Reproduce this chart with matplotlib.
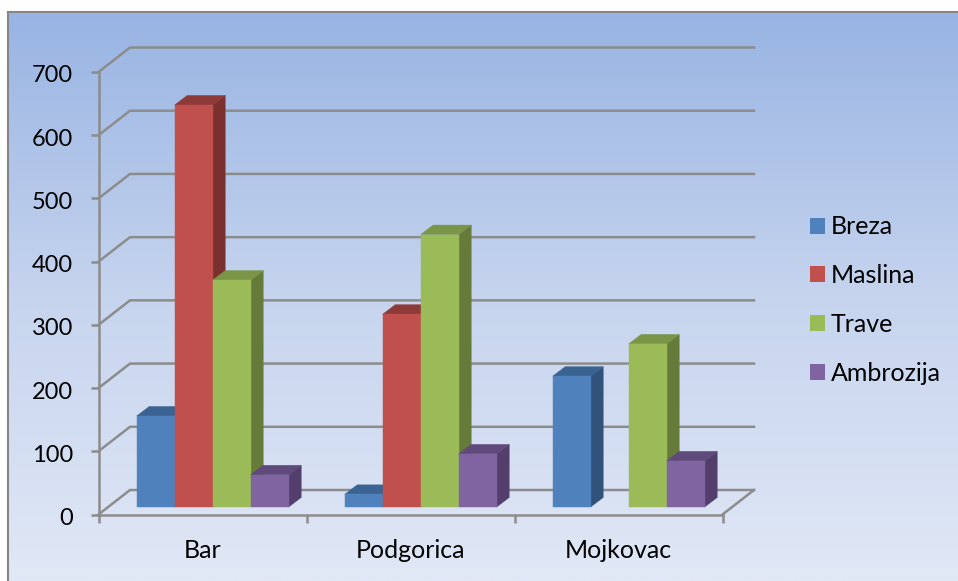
import numpy as np
import matplotlib
matplotlib.use("Agg")
import matplotlib.pyplot as plt
from matplotlib.patches import Polygon, Patch
from matplotlib.colors import LinearSegmentedColormap
from matplotlib.transforms import ScaledTranslation

plt.rcParams['font.family'] = ['Lato', 'DejaVu Sans']

categories = ["Bar", "Podgorica", "Mojkovac"]
series_names = ["Breza", "Maslina", "Trave", "Ambrozija"]
breza = [144, 20, 207]
maslina = [636, 305, np.nan]
trave = [359, 431, 258]
ambrozija = [51, 84, 73]
y_ticks = [0, 100, 200, 300, 400, 500, 600, 700]

series = [breza, maslina, trave, ambrozija]
front_colors = ["#4F81BD", "#C0504D", "#9BBB59", "#8064A2"]
top_colors = ["#3B6391", "#8E3A38", "#7A9546", "#604A7B"]
side_colors = ["#31527A", "#7A302E", "#667A3A", "#533F6C"]

W, H = 958, 581
fig = plt.figure(figsize=(W / 100, H / 100), dpi=100, facecolor="white")

AX_L, AX_R, AX_T, AX_B = 98.5, 722.5, 72.0, 514.5
FR_L, FR_T = 8.0, 12.0
bg = fig.add_axes([FR_L / W, 0, 1 - FR_L / W, 1 - FR_T / H])
cmap = LinearSegmentedColormap.from_list("bg", ["#98B4E3", "#C6D4EE", "#E1E8F6"])
bg.imshow(np.linspace(0, 1, 256)[:, None], aspect="auto", cmap=cmap, extent=(0, 1, 0, 1))
bg.set_xticks([]); bg.set_yticks([])
for name, sp in bg.spines.items():
    sp.set_color("#868686"); sp.set_linewidth(1.5)
    sp.set_visible(name in ("left", "top"))

ax = fig.add_axes([AX_L / W, 1 - AX_B / H, (AX_R - AX_L) / W, (AX_B - AX_T) / H])
ax.patch.set_alpha(0)
ax.set_xlim(0, 3)
ax.set_ylim(0, 700)
px_x = 3 / (AX_R - AX_L)
px_y = 700 / (AX_B - AX_T)

GRID = "#8C8C8C"
DX, DY = 31.5 * px_x, 24.5 * px_y
LW = 1.8
for v in y_ticks:
    ax.plot([0, DX, 3 + DX], [v, v + DY, v + DY], color=GRID, lw=LW, clip_on=False, zorder=1,
            solid_joinstyle="round")
ax.plot([3, 3 + DX], [0, DY], color=GRID, lw=LW, clip_on=False, zorder=1)

ax.spines["top"].set_visible(False)
ax.spines["right"].set_visible(False)
for s in ("left", "bottom"):
    ax.spines[s].set_color(GRID); ax.spines[s].set_linewidth(LW); ax.spines[s].set_zorder(1)
ax.set_yticks(y_ticks)
ax.set_xticks(range(4))
ax.set_xticklabels([])
ax.set_xticks([i + 0.5 for i in range(3)], categories, minor=True)
ax.tick_params(axis="y", which="major", length=5.5, width=LW, color=GRID, labelsize=17, pad=13)
ax.tick_params(axis="x", which="major", length=5.5, width=LW, color=GRID, labelsize=18)
ax.tick_params(axis="x", which="minor", length=0, labelsize=18, pad=18)
shift = ScaledTranslation(0, -2 / 100, fig.dpi_scale_trans)
for lbl in ax.get_yticklabels():
    lbl.set_transform(lbl.get_transform() + shift)

BAR_W = 38 * px_x
BAR_X0 = (136.7 - AX_L) * px_x
BASE = 7.5 * px_y
dbx, dby = 12.5 * px_x, 9.5 * px_y
for c in range(len(categories)):
    for s, vals in enumerate(series):
        v = vals[c]
        if np.isnan(v):
            continue
        x0 = c + BAR_X0 + s * BAR_W
        x1 = x0 + BAR_W
        y0, y1 = BASE, BASE + v
        kw = dict(closed=True, clip_on=False, zorder=3 + c * 10 + s, lw=0.3, joinstyle="round")
        ax.add_patch(Polygon([(x1, y0), (x1 + dbx, y0 + dby), (x1 + dbx, y1 + dby), (x1, y1)],
                             fc=side_colors[s], ec=side_colors[s], **kw))
        ax.add_patch(Polygon([(x0, y1), (x0 + dbx, y1 + dby), (x1 + dbx, y1 + dby), (x1, y1)],
                             fc=top_colors[s], ec=top_colors[s], **kw))
        ax.add_patch(Polygon([(x0, y0), (x1, y0), (x1, y1), (x0, y1)],
                             fc=front_colors[s], ec=front_colors[s], **kw))

handles = [Patch(fc=c, ec="none", label=n) for c, n in zip(front_colors, series_names)]
fs_px = 18 * 100 / 72
leg = fig.legend(handles=handles, loc="center left", frameon=False, fontsize=18,
                 bbox_to_anchor=(809.5 / W, 1 - 300 / H), borderaxespad=0, borderpad=0,
                 handlelength=15 / fs_px, handleheight=15 / fs_px,
                 handletextpad=6 / fs_px, labelspacing=1.03)

fig.savefig("out.png", dpi=100, facecolor="white")
